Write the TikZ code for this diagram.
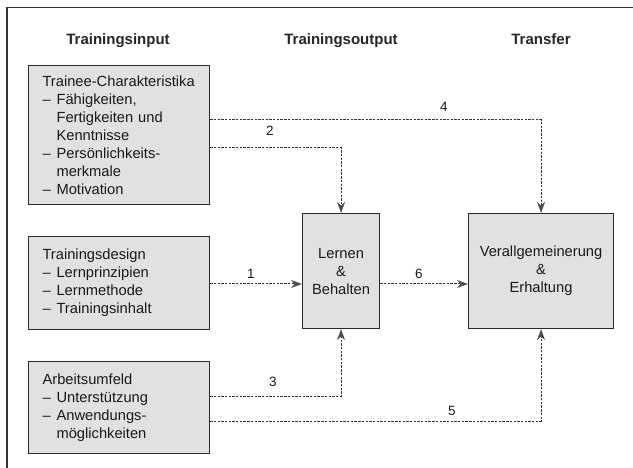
\documentclass[tikz,border=0pt]{standalone}
\usepackage{fontspec}
\setmainfont{Liberation Sans}
\usetikzlibrary{arrows.meta}
\definecolor{boxfill}{HTML}{E1E1E1}
\definecolor{boxline}{HTML}{2A2A2A}
\definecolor{arrowcol}{HTML}{333333}
\definecolor{tipcol}{HTML}{505050}
\newcommand{\itm}{\makebox[14pt][l]{–}}
\newcommand{\ind}{\hspace*{14pt}}
\begin{document}
\begin{tikzpicture}[x=1pt,y=-1pt,
  inbox/.style={draw=boxline, line width=1.1pt, fill=boxfill, anchor=north west,
    inner xsep=14pt, inner ysep=0pt, text width=153pt, align=left,
    minimum width=181pt, font=\fontsize{14.7}{18}\selectfont, text=black!90},
  outbox/.style={draw=boxline, line width=1.1pt, fill=boxfill, anchor=north west,
    inner sep=0pt, align=center, font=\fontsize{14.7}{18}\selectfont, text=black!90},
  header/.style={anchor=base, font=\fontsize{15}{18}\selectfont\bfseries, text=black!85},
  lbl/.style={anchor=base, font=\fontsize{13.5}{15}\selectfont, text=black!90},
  conn/.style={draw=arrowcol, line width=1pt, dash pattern=on 2.4pt off 1.3pt,
    -{Stealth[length=11pt,width=8pt,inset=3.5pt,fill=tipcol,color=tipcol]}}
]
\useasboundingbox (0,0) rectangle (633,468);
\fill[white] (0,0) rectangle (633,468);
% frame
\draw[line width=1.6pt, black!80] (7,468) -- (7,7.5) -- (633,7.5);

% headers
\node[header] (h1) at (118,45) {Trainingsinput};
\node[header] (h2) at (341,45) {Trainingsoutput};
\node[header] (h3) at (541,45) {Transfer};

% input boxes
\node[inbox, minimum height=139pt] (A) at (28,65) {Trainee-Charakteristika\\
\itm Fähigkeiten,\\ \ind Fertigkeiten und\\ \ind Kenntnisse\\
\itm Persönlichkeits-\\ \ind merkmale\\ \itm Motivation};
\node[inbox, minimum height=93pt] (B) at (28,236) {Trainingsdesign\\
\itm Lernprinzipien\\ \itm Lernmethode\\ \itm Trainingsinhalt};
\node[inbox, minimum height=92pt] (C) at (28,361) {Arbeitsumfeld\\
\itm Unterstützung\\ \itm Anwendungs-\\ \ind möglichkeiten};

% output boxes
\node[outbox, minimum width=77pt, minimum height=115pt] (L) at (302,213) {Lernen\\ \&\\ Behalten};
\node[outbox, minimum width=145pt, minimum height=115pt] (V) at (468,213) {Verallgemeinerung\\ \&\\ Erhaltung};

% bend coordinates
\coordinate (k4) at (0,120);
\coordinate (k2) at (0,148);
\coordinate (k1) at (0,284);
\coordinate (k3) at (0,396);
\coordinate (k5) at (0,421);

% connectors
\draw[conn] (A.east |- k4) -| (V.north);
\draw[conn] (A.east |- k2) -| (L.north);
\draw[conn] (B.east |- k1) -- (L.west |- k1);
\draw[conn] (L.east |- k1) -- (V.west |- k1);
\draw[conn] (C.east |- k3) -| (L.south);
\draw[conn] (C.east |- k5) -| (V.south);

% labels
\node[lbl] (l4) at (444,112) {4};
\node[lbl] (l2) at (270,136) {2};
\node[lbl] (l1) at (251,279) {1};
\node[lbl] (l6) at (419,279) {6};
\node[lbl] (l3) at (273,387) {3};
\node[lbl] (l5) at (452,415) {5};
\end{tikzpicture}
\end{document}
